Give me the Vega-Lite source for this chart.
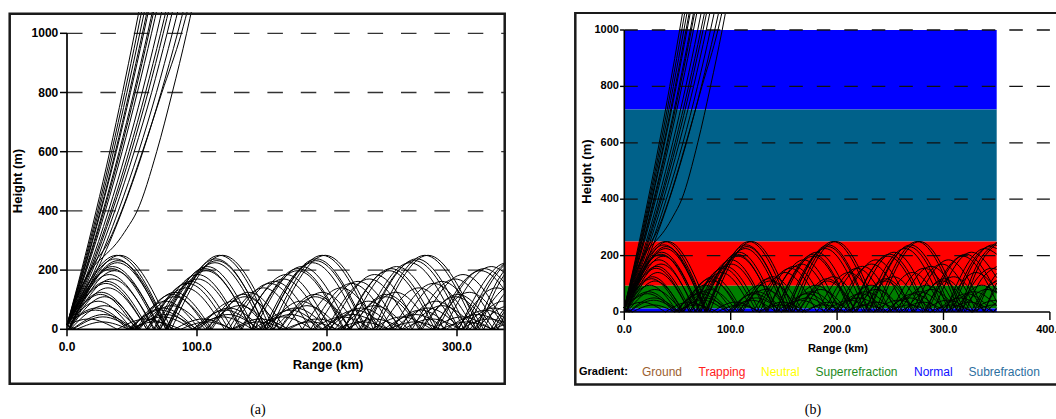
{
"$schema":"https://vega.github.io/schema/vega-lite/v6.json",
"background":"white",
"padding":{"left":8,"top":12,"right":0,"bottom":0},
"autosize":{"type":"pad"},
"bounds":"flush",
"spacing":68,
"config":{"view":{"stroke":null}},
"resolve":{"scale":{"color":"independent"},"legend":{"color":"independent"}},
"datasets":{
"ylev":[{"v":0},{"v":200},{"v":400},{"v":600},{"v":800},{"v":1000}],
"xlev":[{"v":0},{"v":100},{"v":200},{"v":300},{"v":400}],
"bands":[{"band":"Normal","lo":718,"hi":1000},{"band":"Subrefraction","lo":250,"hi":718},{"band":"Trapping","lo":93,"hi":250},{"band":"Superrefraction","lo":12,"hi":93},{"band":"Normal","lo":0,"hi":12}],
"rays":[
{"s":"e1","x":0,"h":15},{"s":"e1","x":11.2,"h":200},{"s":"e1","x":22.4,"h":400},{"s":"e1","x":32.9,"h":600},{"s":"e1","x":42.7,"h":800},{"s":"e1","x":52,"h":1000},{"s":"e1","x":56.5,"h":1100},
{"s":"e2","x":0,"h":15},{"s":"e2","x":11.8,"h":200},{"s":"e2","x":23.5,"h":400},{"s":"e2","x":34.3,"h":600},{"s":"e2","x":44.4,"h":800},{"s":"e2","x":54,"h":1000},{"s":"e2","x":58.6,"h":1100},
{"s":"e3","x":0,"h":15},{"s":"e3","x":12.3,"h":200},{"s":"e3","x":24.5,"h":400},{"s":"e3","x":35.7,"h":600},{"s":"e3","x":46.1,"h":800},{"s":"e3","x":56,"h":1000},{"s":"e3","x":60.8,"h":1100},
{"s":"e4","x":0,"h":15},{"s":"e4","x":12.9,"h":200},{"s":"e4","x":25.6,"h":400},{"s":"e4","x":37.2,"h":600},{"s":"e4","x":47.9,"h":800},{"s":"e4","x":58,"h":1000},{"s":"e4","x":62.9,"h":1100},
{"s":"e5","x":0,"h":15},{"s":"e5","x":13.2,"h":200},{"s":"e5","x":26.1,"h":400},{"s":"e5","x":37.9,"h":600},{"s":"e5","x":48.8,"h":800},{"s":"e5","x":59,"h":1000},{"s":"e5","x":63.9,"h":1100},
{"s":"e6","x":0,"h":15},{"s":"e6","x":14.1,"h":200},{"s":"e6","x":27.7,"h":400},{"s":"e6","x":40.1,"h":600},{"s":"e6","x":51.4,"h":800},{"s":"e6","x":62,"h":1000},{"s":"e6","x":67,"h":1100},
{"s":"e7","x":0,"h":15},{"s":"e7","x":14.5,"h":200},{"s":"e7","x":28.4,"h":400},{"s":"e7","x":41,"h":600},{"s":"e7","x":52.4,"h":800},{"s":"e7","x":63,"h":1000},{"s":"e7","x":68.1,"h":1100},
{"s":"e8","x":0,"h":15},{"s":"e8","x":15.1,"h":200},{"s":"e8","x":29.5,"h":400},{"s":"e8","x":42.4,"h":600},{"s":"e8","x":54.1,"h":800},{"s":"e8","x":65,"h":1000},{"s":"e8","x":70.2,"h":1100},
{"s":"e9","x":0,"h":15},{"s":"e9","x":16.6,"h":200},{"s":"e9","x":31.9,"h":400},{"s":"e9","x":45.5,"h":600},{"s":"e9","x":57.8,"h":800},{"s":"e9","x":69,"h":1000},{"s":"e9","x":74.3,"h":1100},
{"s":"e10","x":0,"h":15},{"s":"e10","x":17.6,"h":200},{"s":"e10","x":33.7,"h":400},{"s":"e10","x":47.7,"h":600},{"s":"e10","x":60.4,"h":800},{"s":"e10","x":72,"h":1000},{"s":"e10","x":77.5,"h":1100},
{"s":"e11","x":0,"h":15},{"s":"e11","x":18.5,"h":200},{"s":"e11","x":34.9,"h":400},{"s":"e11","x":49.4,"h":600},{"s":"e11","x":62.3,"h":800},{"s":"e11","x":74,"h":1000},{"s":"e11","x":79.5,"h":1100},
{"s":"e12","x":0,"h":15},{"s":"e12","x":19.7,"h":200},{"s":"e12","x":36.8,"h":400},{"s":"e12","x":51.7,"h":600},{"s":"e12","x":65.1,"h":800},{"s":"e12","x":77,"h":1000},{"s":"e12","x":82.6,"h":1100},
{"s":"e13","x":0,"h":15},{"s":"e13","x":21.5,"h":200},{"s":"e13","x":39.5,"h":400},{"s":"e13","x":55.1,"h":600},{"s":"e13","x":68.8,"h":800},{"s":"e13","x":81,"h":1000},{"s":"e13","x":86.7,"h":1100},
{"s":"e14","x":0,"h":15},{"s":"e14","x":23.2,"h":200},{"s":"e14","x":42.4,"h":400},{"s":"e14","x":58.4,"h":600},{"s":"e14","x":72.4,"h":800},{"s":"e14","x":85,"h":1000},{"s":"e14","x":90.9,"h":1100},
{"s":"e15","x":0,"h":15},{"s":"e15","x":14,"h":170},{"s":"e15","x":22,"h":230},{"s":"e15","x":30,"h":280},{"s":"e15","x":42,"h":400},{"s":"e15","x":58,"h":600},{"s":"e15","x":73,"h":800},{"s":"e15","x":88,"h":1000},{"s":"e15","x":94,"h":1100},
{"s":"e16","x":0,"h":15},{"s":"e16","x":10,"h":130},{"s":"e16","x":20,"h":210},{"s":"e16","x":28,"h":245},{"s":"e16","x":38,"h":290},{"s":"e16","x":46,"h":340},{"s":"e16","x":54,"h":400},{"s":"e16","x":69,"h":600},{"s":"e16","x":81,"h":800},{"s":"e16","x":92,"h":1000},{"s":"e16","x":97,"h":1100},
{"s":"1a","x":0,"h":15},{"s":"1a","x":38.3,"h":250},{"s":"1a","x":77.8,"h":0},
{"s":"1b","x":77.8,"h":0},{"s":"1b","x":117.3,"h":250},{"s":"1b","x":156.8,"h":0},
{"s":"1c","x":156.8,"h":0},{"s":"1c","x":196.3,"h":250},{"s":"1c","x":235.8,"h":0},
{"s":"1d","x":235.8,"h":0},{"s":"1d","x":275.3,"h":250},{"s":"1d","x":314.8,"h":0},
{"s":"1e","x":314.8,"h":0},{"s":"1e","x":332.4,"h":173},{"s":"1e","x":350,"h":247},
{"s":"2a","x":1.2,"h":0},{"s":"2a","x":40.7,"h":250},{"s":"2a","x":80.2,"h":0},
{"s":"2b","x":80.2,"h":0},{"s":"2b","x":119.7,"h":250},{"s":"2b","x":159.2,"h":0},
{"s":"2c","x":159.2,"h":0},{"s":"2c","x":198.7,"h":250},{"s":"2c","x":238.2,"h":0},
{"s":"2d","x":238.2,"h":0},{"s":"2d","x":277.7,"h":250},{"s":"2d","x":317.2,"h":0},
{"s":"2e","x":317.2,"h":0},{"s":"2e","x":333.6,"h":165},{"s":"2e","x":350,"h":243},
{"s":"3a","x":0,"h":15},{"s":"3a","x":37.4,"h":238},{"s":"3a","x":76,"h":0},
{"s":"3b","x":76,"h":0},{"s":"3b","x":114.6,"h":238},{"s":"3b","x":153.2,"h":0},
{"s":"3c","x":153.2,"h":0},{"s":"3c","x":191.8,"h":238},{"s":"3c","x":230.4,"h":0},
{"s":"3d","x":230.4,"h":0},{"s":"3d","x":269,"h":238},{"s":"3d","x":307.6,"h":0},
{"s":"3e","x":307.6,"h":0},{"s":"3e","x":346.2,"h":238},{"s":"3e","x":350,"h":236},
{"s":"4a","x":1.3,"h":0},{"s":"4a","x":38.8,"h":225},{"s":"4a","x":76.3,"h":0},
{"s":"4b","x":76.3,"h":0},{"s":"4b","x":113.8,"h":225},{"s":"4b","x":151.3,"h":0},
{"s":"4c","x":151.3,"h":0},{"s":"4c","x":188.8,"h":225},{"s":"4c","x":226.3,"h":0},
{"s":"4d","x":226.3,"h":0},{"s":"4d","x":263.8,"h":225},{"s":"4d","x":301.3,"h":0},
{"s":"4e","x":301.3,"h":0},{"s":"4e","x":338.8,"h":225},{"s":"4e","x":350,"h":205},
{"s":"5a","x":0,"h":15},{"s":"5a","x":35.1,"h":212},{"s":"5a","x":71.5,"h":0},
{"s":"5b","x":71.5,"h":0},{"s":"5b","x":107.9,"h":212},{"s":"5b","x":144.3,"h":0},
{"s":"5c","x":144.3,"h":0},{"s":"5c","x":180.7,"h":212},{"s":"5c","x":217.1,"h":0},
{"s":"5d","x":217.1,"h":0},{"s":"5d","x":253.5,"h":212},{"s":"5d","x":289.9,"h":0},
{"s":"5e","x":289.9,"h":0},{"s":"5e","x":326.3,"h":212},{"s":"5e","x":350,"h":122},
{"s":"6a","x":1.4,"h":0},{"s":"6a","x":36.6,"h":198},{"s":"6a","x":71.8,"h":0},
{"s":"6b","x":71.8,"h":0},{"s":"6b","x":107,"h":198},{"s":"6b","x":142.2,"h":0},
{"s":"6c","x":142.2,"h":0},{"s":"6c","x":177.4,"h":198},{"s":"6c","x":212.6,"h":0},
{"s":"6d","x":212.6,"h":0},{"s":"6d","x":247.8,"h":198},{"s":"6d","x":283,"h":0},
{"s":"6e","x":283,"h":0},{"s":"6e","x":318.2,"h":198},{"s":"6e","x":350,"h":36},
{"s":"7a","x":0,"h":15},{"s":"7a","x":32.6,"h":185},{"s":"7a","x":66.6,"h":0},
{"s":"7b","x":66.6,"h":0},{"s":"7b","x":100.6,"h":185},{"s":"7b","x":134.6,"h":0},
{"s":"7c","x":134.6,"h":0},{"s":"7c","x":168.6,"h":185},{"s":"7c","x":202.6,"h":0},
{"s":"7d","x":202.6,"h":0},{"s":"7d","x":236.6,"h":185},{"s":"7d","x":270.6,"h":0},
{"s":"7e","x":270.6,"h":0},{"s":"7e","x":304.6,"h":185},{"s":"7e","x":338.6,"h":0},
{"s":"7f","x":338.6,"h":0},{"s":"7f","x":344.3,"h":57},{"s":"7f","x":350,"h":103},
{"s":"8a","x":1.5,"h":0},{"s":"8a","x":34.5,"h":170},{"s":"8a","x":67.5,"h":0},
{"s":"8b","x":67.5,"h":0},{"s":"8b","x":100.5,"h":170},{"s":"8b","x":133.5,"h":0},
{"s":"8c","x":133.5,"h":0},{"s":"8c","x":166.5,"h":170},{"s":"8c","x":199.5,"h":0},
{"s":"8d","x":199.5,"h":0},{"s":"8d","x":232.5,"h":170},{"s":"8d","x":265.5,"h":0},
{"s":"8e","x":265.5,"h":0},{"s":"8e","x":298.5,"h":170},{"s":"8e","x":331.5,"h":0},
{"s":"8f","x":331.5,"h":0},{"s":"8f","x":340.8,"h":82},{"s":"8f","x":350,"h":137},
{"s":"9a","x":0,"h":15},{"s":"9a","x":29.9,"h":155},{"s":"9a","x":61.4,"h":0},
{"s":"9b","x":61.4,"h":0},{"s":"9b","x":92.9,"h":155},{"s":"9b","x":124.4,"h":0},
{"s":"9c","x":124.4,"h":0},{"s":"9c","x":155.9,"h":155},{"s":"9c","x":187.4,"h":0},
{"s":"9d","x":187.4,"h":0},{"s":"9d","x":218.9,"h":155},{"s":"9d","x":250.4,"h":0},
{"s":"9e","x":250.4,"h":0},{"s":"9e","x":281.9,"h":155},{"s":"9e","x":313.4,"h":0},
{"s":"9f","x":313.4,"h":0},{"s":"9f","x":344.9,"h":155},{"s":"9f","x":350,"h":151},
{"s":"10a","x":1.6,"h":0},{"s":"10a","x":31.5,"h":140},{"s":"10a","x":61.4,"h":0},
{"s":"10b","x":61.4,"h":0},{"s":"10b","x":91.3,"h":140},{"s":"10b","x":121.2,"h":0},
{"s":"10c","x":121.2,"h":0},{"s":"10c","x":151.1,"h":140},{"s":"10c","x":181,"h":0},
{"s":"10d","x":181,"h":0},{"s":"10d","x":210.9,"h":140},{"s":"10d","x":240.8,"h":0},
{"s":"10e","x":240.8,"h":0},{"s":"10e","x":270.7,"h":140},{"s":"10e","x":300.6,"h":0},
{"s":"10f","x":300.6,"h":0},{"s":"10f","x":330.5,"h":140},{"s":"10f","x":350,"h":80},
{"s":"11a","x":0,"h":15},{"s":"11a","x":26.5,"h":125},{"s":"11a","x":54.8,"h":0},
{"s":"11b","x":54.8,"h":0},{"s":"11b","x":83.1,"h":125},{"s":"11b","x":111.4,"h":0},
{"s":"11c","x":111.4,"h":0},{"s":"11c","x":139.7,"h":125},{"s":"11c","x":168,"h":0},
{"s":"11d","x":168,"h":0},{"s":"11d","x":196.3,"h":125},{"s":"11d","x":224.6,"h":0},
{"s":"11e","x":224.6,"h":0},{"s":"11e","x":252.9,"h":125},{"s":"11e","x":281.2,"h":0},
{"s":"11f","x":281.2,"h":0},{"s":"11f","x":309.5,"h":125},{"s":"11f","x":337.8,"h":0},
{"s":"11g","x":337.8,"h":0},{"s":"11g","x":343.9,"h":48},{"s":"11g","x":350,"h":85},
{"s":"12a","x":1.9,"h":0},{"s":"12a","x":28.9,"h":110},{"s":"12a","x":55.9,"h":0},
{"s":"12b","x":55.9,"h":0},{"s":"12b","x":82.9,"h":110},{"s":"12b","x":109.9,"h":0},
{"s":"12c","x":109.9,"h":0},{"s":"12c","x":136.9,"h":110},{"s":"12c","x":163.9,"h":0},
{"s":"12d","x":163.9,"h":0},{"s":"12d","x":190.9,"h":110},{"s":"12d","x":217.9,"h":0},
{"s":"12e","x":217.9,"h":0},{"s":"12e","x":244.9,"h":110},{"s":"12e","x":271.9,"h":0},
{"s":"12f","x":271.9,"h":0},{"s":"12f","x":298.9,"h":110},{"s":"12f","x":325.9,"h":0},
{"s":"12g","x":325.9,"h":0},{"s":"12g","x":338,"h":77},{"s":"12g","x":350,"h":109},
{"s":"13a","x":0,"h":15},{"s":"13a","x":23.9,"h":95},{"s":"13a","x":49.9,"h":0},
{"s":"13b","x":49.9,"h":0},{"s":"13b","x":75.9,"h":95},{"s":"13b","x":101.9,"h":0},
{"s":"13c","x":101.9,"h":0},{"s":"13c","x":127.9,"h":95},{"s":"13c","x":153.9,"h":0},
{"s":"13d","x":153.9,"h":0},{"s":"13d","x":179.9,"h":95},{"s":"13d","x":205.9,"h":0},
{"s":"13e","x":205.9,"h":0},{"s":"13e","x":231.9,"h":95},{"s":"13e","x":257.9,"h":0},
{"s":"13f","x":257.9,"h":0},{"s":"13f","x":283.9,"h":95},{"s":"13f","x":309.9,"h":0},
{"s":"13g","x":309.9,"h":0},{"s":"13g","x":335.9,"h":95},{"s":"13g","x":350,"h":67},
{"s":"14p","x":0,"h":15},{"s":"14p","x":2.6,"h":0},
{"s":"14a","x":2.6,"h":0},{"s":"14a","x":28.6,"h":80},{"s":"14a","x":54.6,"h":0},
{"s":"14b","x":54.6,"h":0},{"s":"14b","x":80.6,"h":80},{"s":"14b","x":106.6,"h":0},
{"s":"14c","x":106.6,"h":0},{"s":"14c","x":132.6,"h":80},{"s":"14c","x":158.6,"h":0},
{"s":"14d","x":158.6,"h":0},{"s":"14d","x":184.6,"h":80},{"s":"14d","x":210.6,"h":0},
{"s":"14e","x":210.6,"h":0},{"s":"14e","x":236.6,"h":80},{"s":"14e","x":262.6,"h":0},
{"s":"14f","x":262.6,"h":0},{"s":"14f","x":288.6,"h":80},{"s":"14f","x":314.6,"h":0},
{"s":"14g","x":314.6,"h":0},{"s":"14g","x":340.6,"h":80},{"s":"14g","x":350,"h":70},
{"s":"15a","x":0,"h":15},{"s":"15a","x":21.9,"h":65},{"s":"15a","x":46.9,"h":0},
{"s":"15b","x":46.9,"h":0},{"s":"15b","x":71.9,"h":65},{"s":"15b","x":96.9,"h":0},
{"s":"15c","x":96.9,"h":0},{"s":"15c","x":121.9,"h":65},{"s":"15c","x":146.9,"h":0},
{"s":"15d","x":146.9,"h":0},{"s":"15d","x":171.9,"h":65},{"s":"15d","x":196.9,"h":0},
{"s":"15e","x":196.9,"h":0},{"s":"15e","x":221.9,"h":65},{"s":"15e","x":246.9,"h":0},
{"s":"15f","x":246.9,"h":0},{"s":"15f","x":271.9,"h":65},{"s":"15f","x":296.9,"h":0},
{"s":"15g","x":296.9,"h":0},{"s":"15g","x":321.9,"h":65},{"s":"15g","x":346.9,"h":0},
{"s":"15h","x":346.9,"h":0},{"s":"15h","x":350,"h":15},
{"s":"16p","x":0,"h":15},{"s":"16p","x":3.9,"h":0},
{"s":"16a","x":3.9,"h":0},{"s":"16a","x":27.9,"h":50},{"s":"16a","x":51.9,"h":0},
{"s":"16b","x":51.9,"h":0},{"s":"16b","x":75.9,"h":50},{"s":"16b","x":99.9,"h":0},
{"s":"16c","x":99.9,"h":0},{"s":"16c","x":123.9,"h":50},{"s":"16c","x":147.9,"h":0},
{"s":"16d","x":147.9,"h":0},{"s":"16d","x":171.9,"h":50},{"s":"16d","x":195.9,"h":0},
{"s":"16e","x":195.9,"h":0},{"s":"16e","x":219.9,"h":50},{"s":"16e","x":243.9,"h":0},
{"s":"16f","x":243.9,"h":0},{"s":"16f","x":267.9,"h":50},{"s":"16f","x":291.9,"h":0},
{"s":"16g","x":291.9,"h":0},{"s":"16g","x":315.9,"h":50},{"s":"16g","x":339.9,"h":0},
{"s":"16h","x":339.9,"h":0},{"s":"16h","x":345,"h":19},{"s":"16h","x":350,"h":33},
{"s":"17a","x":0,"h":15},{"s":"17a","x":16.6,"h":35},{"s":"17a","x":38.6,"h":0},
{"s":"17b","x":38.6,"h":0},{"s":"17b","x":60.6,"h":35},{"s":"17b","x":82.6,"h":0},
{"s":"17c","x":82.6,"h":0},{"s":"17c","x":104.6,"h":35},{"s":"17c","x":126.6,"h":0},
{"s":"17d","x":126.6,"h":0},{"s":"17d","x":148.6,"h":35},{"s":"17d","x":170.6,"h":0},
{"s":"17e","x":170.6,"h":0},{"s":"17e","x":192.6,"h":35},{"s":"17e","x":214.6,"h":0},
{"s":"17f","x":214.6,"h":0},{"s":"17f","x":236.6,"h":35},{"s":"17f","x":258.6,"h":0},
{"s":"17g","x":258.6,"h":0},{"s":"17g","x":280.6,"h":35},{"s":"17g","x":302.6,"h":0},
{"s":"17h","x":302.6,"h":0},{"s":"17h","x":324.6,"h":35},{"s":"17h","x":346.6,"h":0},
{"s":"17i","x":346.6,"h":0},{"s":"17i","x":350,"h":10},
{"s":"18p","x":0,"h":15},{"s":"18p","x":7.4,"h":0},
{"s":"18a","x":7.4,"h":0},{"s":"18a","x":27.4,"h":25},{"s":"18a","x":47.4,"h":0},
{"s":"18b","x":47.4,"h":0},{"s":"18b","x":67.4,"h":25},{"s":"18b","x":87.4,"h":0},
{"s":"18c","x":87.4,"h":0},{"s":"18c","x":107.4,"h":25},{"s":"18c","x":127.4,"h":0},
{"s":"18d","x":127.4,"h":0},{"s":"18d","x":147.4,"h":25},{"s":"18d","x":167.4,"h":0},
{"s":"18e","x":167.4,"h":0},{"s":"18e","x":187.4,"h":25},{"s":"18e","x":207.4,"h":0},
{"s":"18f","x":207.4,"h":0},{"s":"18f","x":227.4,"h":25},{"s":"18f","x":247.4,"h":0},
{"s":"18g","x":247.4,"h":0},{"s":"18g","x":267.4,"h":25},{"s":"18g","x":287.4,"h":0},
{"s":"18h","x":287.4,"h":0},{"s":"18h","x":307.4,"h":25},{"s":"18h","x":327.4,"h":0},
{"s":"18i","x":327.4,"h":0},{"s":"18i","x":347.4,"h":25},{"s":"18i","x":350,"h":25},
{"s":"19a","x":1.3,"h":0},{"s":"19a","x":39.3,"h":232},{"s":"19a","x":77.3,"h":0},
{"s":"19b","x":77.3,"h":0},{"s":"19b","x":115.3,"h":232},{"s":"19b","x":153.3,"h":0},
{"s":"19c","x":153.3,"h":0},{"s":"19c","x":191.3,"h":232},{"s":"19c","x":229.3,"h":0},
{"s":"19d","x":229.3,"h":0},{"s":"19d","x":267.3,"h":232},{"s":"19d","x":305.3,"h":0},
{"s":"19e","x":305.3,"h":0},{"s":"19e","x":343.3,"h":232},{"s":"19e","x":350,"h":225},
{"s":"20a","x":0,"h":15},{"s":"20a","x":34.5,"h":205},{"s":"20a","x":70.3,"h":0},
{"s":"20b","x":70.3,"h":0},{"s":"20b","x":106.1,"h":205},{"s":"20b","x":141.9,"h":0},
{"s":"20c","x":141.9,"h":0},{"s":"20c","x":177.7,"h":205},{"s":"20c","x":213.5,"h":0},
{"s":"20d","x":213.5,"h":0},{"s":"20d","x":249.3,"h":205},{"s":"20d","x":285.1,"h":0},
{"s":"20e","x":285.1,"h":0},{"s":"20e","x":320.9,"h":205},{"s":"20e","x":350,"h":70},
{"s":"21a","x":0,"h":15},{"s":"21a","x":30.7,"h":162},{"s":"21a","x":62.9,"h":0},
{"s":"21b","x":62.9,"h":0},{"s":"21b","x":95.1,"h":162},{"s":"21b","x":127.3,"h":0},
{"s":"21c","x":127.3,"h":0},{"s":"21c","x":159.5,"h":162},{"s":"21c","x":191.7,"h":0},
{"s":"21d","x":191.7,"h":0},{"s":"21d","x":223.9,"h":162},{"s":"21d","x":256.1,"h":0},
{"s":"21e","x":256.1,"h":0},{"s":"21e","x":288.3,"h":162},{"s":"21e","x":320.5,"h":0},
{"s":"21f","x":320.5,"h":0},{"s":"21f","x":335.3,"h":114},{"s":"21f","x":350,"h":161},
{"s":"22a","x":0,"h":15},{"s":"22a","x":25.7,"h":118},{"s":"22a","x":53.2,"h":0},
{"s":"22b","x":53.2,"h":0},{"s":"22b","x":80.7,"h":118},{"s":"22b","x":108.2,"h":0},
{"s":"22c","x":108.2,"h":0},{"s":"22c","x":135.7,"h":118},{"s":"22c","x":163.2,"h":0},
{"s":"22d","x":163.2,"h":0},{"s":"22d","x":190.7,"h":118},{"s":"22d","x":218.2,"h":0},
{"s":"22e","x":218.2,"h":0},{"s":"22e","x":245.7,"h":118},{"s":"22e","x":273.2,"h":0},
{"s":"22f","x":273.2,"h":0},{"s":"22f","x":300.7,"h":118},{"s":"22f","x":328.2,"h":0},
{"s":"22g","x":328.2,"h":0},{"s":"22g","x":339.1,"h":75},{"s":"22g","x":350,"h":113},
{"s":"23a","x":0,"h":15},{"s":"23a","x":22.7,"h":72},{"s":"23a","x":48.2,"h":0},
{"s":"23b","x":48.2,"h":0},{"s":"23b","x":73.7,"h":72},{"s":"23b","x":99.2,"h":0},
{"s":"23c","x":99.2,"h":0},{"s":"23c","x":124.7,"h":72},{"s":"23c","x":150.2,"h":0},
{"s":"23d","x":150.2,"h":0},{"s":"23d","x":175.7,"h":72},{"s":"23d","x":201.2,"h":0},
{"s":"23e","x":201.2,"h":0},{"s":"23e","x":226.7,"h":72},{"s":"23e","x":252.2,"h":0},
{"s":"23f","x":252.2,"h":0},{"s":"23f","x":277.7,"h":72},{"s":"23f","x":303.2,"h":0},
{"s":"23g","x":303.2,"h":0},{"s":"23g","x":328.7,"h":72},{"s":"23g","x":350,"h":22},
{"s":"24p","x":0,"h":15},{"s":"24p","x":4.6,"h":0},
{"s":"24a","x":4.6,"h":0},{"s":"24a","x":27.6,"h":42},{"s":"24a","x":50.6,"h":0},
{"s":"24b","x":50.6,"h":0},{"s":"24b","x":73.6,"h":42},{"s":"24b","x":96.6,"h":0},
{"s":"24c","x":96.6,"h":0},{"s":"24c","x":119.6,"h":42},{"s":"24c","x":142.6,"h":0},
{"s":"24d","x":142.6,"h":0},{"s":"24d","x":165.6,"h":42},{"s":"24d","x":188.6,"h":0},
{"s":"24e","x":188.6,"h":0},{"s":"24e","x":211.6,"h":42},{"s":"24e","x":234.6,"h":0},
{"s":"24f","x":234.6,"h":0},{"s":"24f","x":257.6,"h":42},{"s":"24f","x":280.6,"h":0},
{"s":"24g","x":280.6,"h":0},{"s":"24g","x":303.6,"h":42},{"s":"24g","x":326.6,"h":0},
{"s":"24h","x":326.6,"h":0},{"s":"24h","x":338.3,"h":32},{"s":"24h","x":350,"h":42}
]},
"hconcat":[
{
"width":498,"height":407,
"layer":[
{"data":{"name":"ylev"},"transform":[{"filter":"datum.v > 0"}],
 "mark":{"type":"rule","strokeDash":[15.5,17.9],"color":"#333333","strokeWidth":1.3},
 "encoding":{"x":{"datum":0,"type":"quantitative","scale":{"domain":[-45.385,337.692],"nice":false,"zero":false},"axis":null},"x2":{"datum":337.7},
  "y":{"field":"v","type":"quantitative","scale":{"domain":[-303.04,1071.96],"nice":false,"zero":false},"axis":null}}},
{"data":{"values":[{}]},"mark":{"type":"rule","color":"black","strokeWidth":1.7},
 "encoding":{"x":{"datum":0,"type":"quantitative","scale":{"domain":[-45.385,337.692],"nice":false,"zero":false},"axis":null},
  "y":{"datum":0,"type":"quantitative","scale":{"domain":[-303.04,1071.96],"nice":false,"zero":false},"axis":null},"y2":{"datum":1000}}},
{"data":{"values":[{}]},"mark":{"type":"rule","color":"black","strokeWidth":1.7},
 "encoding":{"x":{"datum":0,"type":"quantitative","scale":{"domain":[-45.385,337.692],"nice":false,"zero":false},"axis":null},"x2":{"datum":337.7},
  "y":{"datum":0,"type":"quantitative","scale":{"domain":[-303.04,1071.96],"nice":false,"zero":false},"axis":null}}},
{"data":{"name":"ylev"},"mark":{"type":"rule","color":"black","strokeWidth":1.5},
 "encoding":{"x":{"datum":-5.4,"type":"quantitative","scale":{"domain":[-45.385,337.692],"nice":false,"zero":false},"axis":null},"x2":{"datum":0},
  "y":{"field":"v","type":"quantitative","scale":{"domain":[-303.04,1071.96],"nice":false,"zero":false},"axis":null}}},
{"data":{"name":"xlev"},"transform":[{"filter":"datum.v <= 300"}],"mark":{"type":"rule","color":"black","strokeWidth":1.5},
 "encoding":{"x":{"field":"v","type":"quantitative","scale":{"domain":[-45.385,337.692],"nice":false,"zero":false},"axis":null},
  "y":{"datum":0,"type":"quantitative","scale":{"domain":[-303.04,1071.96],"nice":false,"zero":false},"axis":null},"y2":{"datum":-23.6}}},
{"data":{"name":"rays"},"mark":{"type":"line","interpolate":"monotone","clip":true,"color":"black","strokeWidth":1},
 "encoding":{"x":{"field":"x","type":"quantitative","scale":{"domain":[-45.385,337.692],"nice":false,"zero":false},"axis":null},
  "y":{"field":"h","type":"quantitative","scale":{"domain":[-303.04,1071.96],"nice":false,"zero":false},"axis":null},
  "detail":{"field":"s","type":"nominal"}}},
{"data":{"name":"ylev"},"mark":{"type":"text","align":"right","baseline":"middle","font":"Liberation Sans","fontSize":12,"fontWeight":"bold","color":"black"},
 "encoding":{"x":{"datum":-6.7,"type":"quantitative","scale":{"domain":[-45.385,337.692],"nice":false,"zero":false},"axis":null},
  "y":{"field":"v","type":"quantitative","scale":{"domain":[-303.04,1071.96],"nice":false,"zero":false},"axis":null},
  "text":{"field":"v","type":"quantitative","format":"d"}}},
{"data":{"name":"xlev"},"transform":[{"filter":"datum.v <= 300"}],"mark":{"type":"text","align":"center","baseline":"middle","font":"Liberation Sans","fontSize":12,"fontWeight":"bold","color":"black"},
 "encoding":{"x":{"field":"v","type":"quantitative","scale":{"domain":[-45.385,337.692],"nice":false,"zero":false},"axis":null},
  "y":{"datum":-59.8,"type":"quantitative","scale":{"domain":[-303.04,1071.96],"nice":false,"zero":false},"axis":null},
  "text":{"field":"v","type":"quantitative","format":".1f"}}},
{"data":{"values":[{}]},"mark":{"type":"text","text":"Range (km)","align":"center","baseline":"middle","font":"Liberation Sans","fontSize":13,"fontWeight":"bold","color":"black"},
 "encoding":{"x":{"datum":200.8,"type":"quantitative","scale":{"domain":[-45.385,337.692],"nice":false,"zero":false},"axis":null},
  "y":{"datum":-120.6,"type":"quantitative","scale":{"domain":[-303.04,1071.96],"nice":false,"zero":false},"axis":null}}},
{"data":{"values":[{}]},"mark":{"type":"text","text":"Height (m)","angle":270,"align":"center","baseline":"middle","font":"Liberation Sans","fontSize":13,"fontWeight":"bold","color":"black"},
 "encoding":{"x":{"datum":-37.7,"type":"quantitative","scale":{"domain":[-45.385,337.692],"nice":false,"zero":false},"axis":null},
  "y":{"datum":501,"type":"quantitative","scale":{"domain":[-303.04,1071.96],"nice":false,"zero":false},"axis":null}}},
{"data":{"values":[{}]},"mark":{"type":"rect","fill":"transparent","stroke":"#1a1a1a","strokeWidth":2.5},
 "encoding":{"x":{"datum":-44.08,"type":"quantitative","scale":{"domain":[-45.385,337.692],"nice":false,"zero":false},"axis":null},"x2":{"datum":336.7},
  "y":{"datum":-183.8,"type":"quantitative","scale":{"domain":[-303.04,1071.96],"nice":false,"zero":false},"axis":null},"y2":{"datum":1066.2}}},
{"data":{"values":[{}]},"mark":{"type":"text","text":"(a)","align":"center","baseline":"middle","font":"Liberation Serif","fontSize":14,"color":"black"},
 "encoding":{"x":{"datum":146.9,"type":"quantitative","scale":{"domain":[-45.385,337.692],"nice":false,"zero":false},"axis":null},
  "y":{"datum":-272.6,"type":"quantitative","scale":{"domain":[-303.04,1071.96],"nice":false,"zero":false},"axis":null}}}
]
},
{
"width":482,"height":407,
"layer":[
{"data":{"name":"bands"},"mark":{"type":"rect","clip":true},
 "encoding":{"x":{"datum":0,"type":"quantitative","scale":{"domain":[-47.274,405.733],"nice":false,"zero":false},"axis":null},"x2":{"datum":350},
  "y":{"field":"lo","type":"quantitative","scale":{"domain":[-379.43,1063.83],"nice":false,"zero":false},"axis":null},"y2":{"field":"hi"},
  "color":{"field":"band","type":"nominal",
   "scale":{"domain":["Ground","Trapping","Neutral","Superrefraction","Normal","Subrefraction"],"range":["#9c6030","#ff0000","#ffff00","#008000","#0000ff","#00618a"]},
   "legend":{"orient":"none","legendX":5,"legendY":354,"direction":"horizontal","columns":6,"gridAlign":"none","padding":0,
    "title":"Gradient:","titleOrient":"left","titleFont":"Liberation Sans","titleFontSize":11,"titleFontWeight":"bold","titleColor":"black","titlePadding":2,
    "labelFont":"Liberation Sans","labelFontSize":12,"labelOffset":0,"labelLimit":300,"columnPadding":3.5,
    "symbolSize":0,"symbolOpacity":0,"symbolStrokeWidth":0,
    "labelColor":{"expr":"datum.value === 'Ground' ? '#9c6030' : datum.value === 'Trapping' ? '#ff2020' : datum.value === 'Neutral' ? '#ffff00' : datum.value === 'Superrefraction' ? '#1e8a1e' : datum.value === 'Normal' ? '#1010ff' : '#2d6fa0'"}}}}},
{"data":{"name":"ylev"},"transform":[{"filter":"datum.v > 0"}],
 "mark":{"type":"rule","strokeDash":[13.5,14],"color":"#111111","strokeWidth":1.3},
 "encoding":{"x":{"datum":0,"type":"quantitative","scale":{"domain":[-47.274,405.733],"nice":false,"zero":false},"axis":null},"x2":{"datum":400},
  "y":{"field":"v","type":"quantitative","scale":{"domain":[-379.43,1063.83],"nice":false,"zero":false},"axis":null}}},
{"data":{"values":[{}]},"mark":{"type":"rule","color":"black","strokeWidth":1.6},
 "encoding":{"x":{"datum":0,"type":"quantitative","scale":{"domain":[-47.274,405.733],"nice":false,"zero":false},"axis":null},
  "y":{"datum":0,"type":"quantitative","scale":{"domain":[-379.43,1063.83],"nice":false,"zero":false},"axis":null},"y2":{"datum":1000}}},
{"data":{"values":[{}]},"mark":{"type":"rule","color":"black","strokeWidth":1.6},
 "encoding":{"x":{"datum":0,"type":"quantitative","scale":{"domain":[-47.274,405.733],"nice":false,"zero":false},"axis":null},"x2":{"datum":400},
  "y":{"datum":0,"type":"quantitative","scale":{"domain":[-379.43,1063.83],"nice":false,"zero":false},"axis":null}}},
{"data":{"name":"ylev"},"mark":{"type":"rule","color":"black","strokeWidth":1.4},
 "encoding":{"x":{"datum":-4.0,"type":"quantitative","scale":{"domain":[-47.274,405.733],"nice":false,"zero":false},"axis":null},"x2":{"datum":0},
  "y":{"field":"v","type":"quantitative","scale":{"domain":[-379.43,1063.83],"nice":false,"zero":false},"axis":null}}},
{"data":{"name":"xlev"},"mark":{"type":"rule","color":"black","strokeWidth":1.4},
 "encoding":{"x":{"field":"v","type":"quantitative","scale":{"domain":[-47.274,405.733],"nice":false,"zero":false},"axis":null},
  "y":{"datum":0,"type":"quantitative","scale":{"domain":[-379.43,1063.83],"nice":false,"zero":false},"axis":null},"y2":{"datum":-28.4}}},
{"data":{"name":"rays"},"mark":{"type":"line","interpolate":"monotone","clip":true,"color":"black","strokeWidth":1},
 "encoding":{"x":{"field":"x","type":"quantitative","scale":{"domain":[-47.274,405.733],"nice":false,"zero":false},"axis":null},
  "y":{"field":"h","type":"quantitative","scale":{"domain":[-379.43,1063.83],"nice":false,"zero":false},"axis":null},
  "detail":{"field":"s","type":"nominal"}}},
{"data":{"name":"ylev"},"mark":{"type":"text","align":"right","baseline":"middle","font":"Liberation Sans","fontSize":11,"fontWeight":"bold","color":"black"},
 "encoding":{"x":{"datum":-5.0,"type":"quantitative","scale":{"domain":[-47.274,405.733],"nice":false,"zero":false},"axis":null},
  "y":{"field":"v","type":"quantitative","scale":{"domain":[-379.43,1063.83],"nice":false,"zero":false},"axis":null},
  "text":{"field":"v","type":"quantitative","format":"d"}}},
{"data":{"name":"xlev"},"mark":{"type":"text","align":"center","baseline":"middle","font":"Liberation Sans","fontSize":11,"fontWeight":"bold","color":"black","clip":true},
 "encoding":{"x":{"field":"v","type":"quantitative","scale":{"domain":[-47.274,405.733],"nice":false,"zero":false},"axis":null},
  "y":{"datum":-65.6,"type":"quantitative","scale":{"domain":[-379.43,1063.83],"nice":false,"zero":false},"axis":null},
  "text":{"field":"v","type":"quantitative","format":".1f"}}},
{"data":{"values":[{}]},"mark":{"type":"text","text":"Range (km)","align":"center","baseline":"middle","font":"Liberation Sans","fontSize":11,"fontWeight":"bold","color":"black"},
 "encoding":{"x":{"datum":200.7,"type":"quantitative","scale":{"domain":[-47.274,405.733],"nice":false,"zero":false},"axis":null},
  "y":{"datum":-131.2,"type":"quantitative","scale":{"domain":[-379.43,1063.83],"nice":false,"zero":false},"axis":null}}},
{"data":{"values":[{}]},"mark":{"type":"text","text":"Height (m)","angle":270,"align":"center","baseline":"middle","font":"Liberation Sans","fontSize":13,"fontWeight":"bold","color":"black"},
 "encoding":{"x":{"datum":-34.6,"type":"quantitative","scale":{"domain":[-47.274,405.733],"nice":false,"zero":false},"axis":null},
  "y":{"datum":498,"type":"quantitative","scale":{"domain":[-379.43,1063.83],"nice":false,"zero":false},"axis":null}}},
{"data":{"values":[{}]},"mark":{"type":"rect","fill":"transparent","stroke":"#1a1a1a","strokeWidth":2.5,"clip":true},
 "encoding":{"x":{"datum":-46.05,"type":"quantitative","scale":{"domain":[-47.274,405.733],"nice":false,"zero":false},"axis":null},"x2":{"datum":420},
  "y":{"datum":-257.1,"type":"quantitative","scale":{"domain":[-379.43,1063.83],"nice":false,"zero":false},"axis":null},"y2":{"datum":1061}}},
{"data":{"values":[{}]},"mark":{"type":"text","text":"(b)","align":"center","baseline":"middle","font":"Liberation Serif","fontSize":14,"color":"black"},
 "encoding":{"x":{"datum":177.3,"type":"quantitative","scale":{"domain":[-47.274,405.733],"nice":false,"zero":false},"axis":null},
  "y":{"datum":-347.5,"type":"quantitative","scale":{"domain":[-379.43,1063.83],"nice":false,"zero":false},"axis":null}}}
]
}
]
}
